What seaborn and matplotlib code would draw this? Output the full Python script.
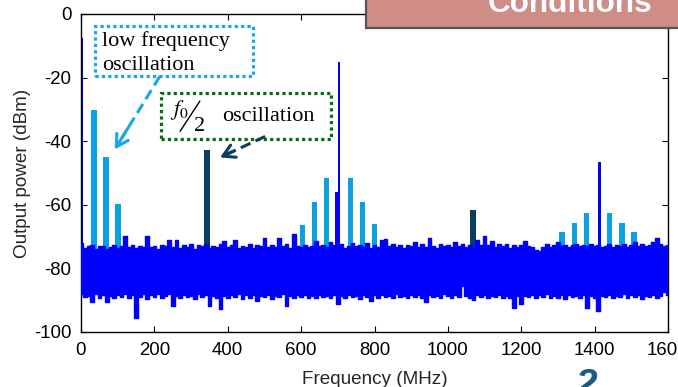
import numpy as np
import pandas as pd
import matplotlib
matplotlib.use("Agg")
import matplotlib.pyplot as plt
from matplotlib.patches import Rectangle
from matplotlib.lines import Line2D
import seaborn as sns

# ---- spectrum data (MHz, dBm) ----
# noise floor envelope, sampled every 10 MHz from 0 to 1600 MHz
noise_freq = list(range(0, 1610, 10))
noise_upper = [
    -72.0, -73.5, -73.0, -72.5, -73.8, -73.0, -72.8, -74.0, -73.2, -72.6,
    -73.5, -73.0, -69.8, -73.4, -72.5, -73.6, -72.8, -73.4, -69.8, -73.2,
    -72.9, -73.8, -72.5, -73.0, -71.0, -73.2, -71.2, -73.5, -72.6, -73.4,
    -72.4, -73.8, -72.7, -73.1, -72.3, -73.5, -72.9, -73.4, -72.4, -71.4,
    -73.3, -72.6, -71.0, -73.5, -72.8, -73.2, -72.2, -73.6, -72.5, -73.0,
    -70.5, -73.4, -72.6, -73.3, -70.3, -73.0, -72.4, -73.6, -69.3, -72.8,
    -73.2, -72.5, -73.4, -72.8, -71.5, -73.0, -72.6, -73.2, -71.8, -72.5,
    -73.0, -72.2, -73.5, -72.8, -71.9, -73.1, -72.5, -73.3, -72.0, -73.5,
    -72.7, -73.2, -71.0, -70.8, -73.0, -72.4, -73.3, -72.6, -73.6, -72.5,
    -72.9, -71.6, -73.3, -72.4, -73.4, -70.3, -72.8, -73.5, -72.3, -73.1,
    -72.6, -73.4, -71.8, -73.0, -72.4, -73.3, -72.6, -73.5, -71.2, -72.7,
    -69.8, -72.6, -71.5, -73.2, -72.4, -73.1, -72.3, -73.6, -72.5, -73.2,
    -72.6, -71.4, -72.8, -73.3, -74.2, -74.5, -73.2, -72.4, -73.4, -72.6,
    -71.8, -73.0, -72.5, -73.2, -72.7, -72.2, -73.1, -72.6, -72.9, -72.4,
    -73.1, -72.6, -73.2, -72.8, -72.3, -73.4, -72.6, -73.0, -72.2, -73.3,
    -72.7, -71.8, -72.9, -72.3, -73.1, -72.5, -71.6, -70.4, -72.4, -73.0,
    -72.5,
]
noise_lower = [
    -88.0, -89.0, -88.6, -90.5, -88.2, -89.3, -88.5, -90.6, -88.7, -89.4,
    -88.3, -89.1, -88.0, -89.2, -88.4, -95.5, -88.9, -88.2, -89.6, -88.5,
    -89.0, -88.2, -89.3, -88.6, -88.1, -91.8, -88.8, -89.4, -88.3, -89.0,
    -88.6, -89.5, -88.2, -89.1, -88.5, -91.8, -88.7, -89.4, -92.8, -88.6,
    -89.3, -88.4, -89.0, -88.2, -89.6, -88.5, -89.2, -88.3, -90.4, -88.7,
    -89.1, -88.4, -89.5, -88.6, -89.0, -88.2, -91.8, -88.8, -89.3, -88.5,
    -89.0, -88.3, -89.2, -88.6, -89.4, -88.4, -89.0, -88.7, -89.3, -88.5,
    -91.2, -88.8, -89.4, -88.3, -89.0, -88.6, -89.5, -88.4, -89.0, -90.4,
    -88.5, -89.2, -88.4, -89.0, -88.6, -89.3, -88.2, -89.1, -88.7, -89.4,
    -88.3, -89.0, -88.5, -89.2, -90.7, -88.4, -89.1, -88.6, -89.3, -88.2,
    -88.8, -89.4, -88.5, -89.0, -85.5, -88.6, -89.2, -90.0, -88.5, -89.1,
    -88.3, -89.4, -88.6, -89.0, -88.4, -89.3, -88.6, -89.2, -92.5, -88.8,
    -91.2, -88.6, -89.1, -88.3, -89.4, -88.5, -89.0, -88.2, -89.3, -88.6,
    -89.2, -88.4, -89.6, -88.5, -89.1, -88.7, -89.3, -88.4, -92.4, -88.8,
    -89.2, -93.5, -88.6, -89.1, -88.3, -89.4, -88.6, -89.0, -88.2, -89.3,
    -88.5, -89.1, -88.4, -89.5, -88.6, -89.0, -88.4, -89.2, -88.6, -87.5,
    -88.5,
]

# carrier lines (DC, f0, 2f0)
carrier_freq = [2, 703, 1414]
carrier_db = [-7.6, -15.0, -46.4]
# skirt just below the f0 carrier
skirt_freq = [697]
skirt_db = [-56.0]

# low-frequency oscillation and its mixing products
lf_freq = [35, 68, 101, 603, 636, 670, 735, 767, 800,
           1311, 1345, 1378, 1441, 1475, 1507]
lf_db = [-30.3, -45.0, -59.6, -66.2, -59.0, -51.7, -51.7, -59.0, -66.0,
         -68.7, -65.6, -62.5, -62.5, -65.6, -68.7]

# f0/2 oscillation products
half_freq = [344, 1068]
half_db = [-42.8, -61.7]

floor_db = -74.0

x_ticks = [0, 200, 400, 600, 800, 1000, 1200, 1400, 1600]
y_ticks = [-100, -80, -60, -40, -20, 0]

BLUE = "#0000FF"
LIGHT = "#0AA2DE"
DARK = "#0B3F60"
GREEN = "#0A6A12"

sns.set_theme(style="ticks")
plt.rcParams["font.family"] = ["Liberation Sans", "DejaVu Sans"]
plt.rcParams["mathtext.fontset"] = "stix"

W, H = 678, 387
fig = plt.figure(figsize=(W / 100, H / 100), dpi=100)
fig.patch.set_facecolor("white")
ax = fig.add_axes([81 / W, 1 - 332 / H, (668 - 81) / W, (332 - 14) / H])
ax.set_facecolor("white")

# spectral bars behind the noise floor
ax.bar(lf_freq, np.array(lf_db) - floor_db, bottom=floor_db, width=14.5,
       color=LIGHT, linewidth=0, zorder=2)
ax.bar(half_freq, np.array(half_db) - floor_db, bottom=floor_db, width=15,
       color=DARK, linewidth=0, zorder=2)
ax.bar(skirt_freq, np.array(skirt_db) - floor_db, bottom=floor_db, width=10,
       color=BLUE, linewidth=0, zorder=2)
ax.bar(carrier_freq, np.array(carrier_db) - floor_db, bottom=floor_db, width=7,
       color=BLUE, linewidth=0, zorder=2)

# noise floor
noise = pd.DataFrame({"freq": noise_freq, "upper": noise_upper, "lower": noise_lower})
ax.fill_between(noise["freq"], noise["lower"], noise["upper"], step="mid",
                color=BLUE, linewidth=0, zorder=3)
sns.lineplot(data=noise, x="freq", y="upper", drawstyle="steps-mid",
             color=BLUE, linewidth=1.0, ax=ax, zorder=3)
sns.lineplot(data=noise, x="freq", y="lower", drawstyle="steps-mid",
             color=BLUE, linewidth=1.0, ax=ax, zorder=3)

ax.set_xlim(0, 1600)
ax.set_ylim(-100, 0)
ax.set_xticks(x_ticks)
ax.set_yticks(y_ticks)
ax.set_xticklabels([str(v) for v in x_ticks])
ax.set_yticklabels([str(v) for v in y_ticks])
ax.tick_params(direction="in", length=4, width=0.8, top=True, right=True,
               labelsize=13.4, colors="black", pad=7)
for s in ax.spines.values():
    s.set_color("black")
    s.set_linewidth(1.0)
ax.set_xlabel("Frequency (MHz)", fontsize=13.6, labelpad=9)
ax.set_ylabel("Output power (dBm)", fontsize=13.6, labelpad=2)

# ---- annotations ----
dot = (0, (1, 1))
ax.add_patch(Rectangle((38, -19.6), 431, 15.8, fill=False, edgecolor="#18A6E6",
                       linewidth=2.3, linestyle=dot, zorder=6, clip_on=False))
ax.text(58, -10.0, "low frequency", family="Liberation Serif", fontsize=16,
        color="black", zorder=7)
ax.text(58, -17.6, "oscillation", family="Liberation Serif", fontsize=16,
        color="black", zorder=7)

ax.add_patch(Rectangle((218, -39.4), 464, 14.5, fill=False, edgecolor=GREEN,
                       linewidth=2.3, linestyle=dot, zorder=6, clip_on=False))
ax.text(243, -31.9, r"$f_0$", fontsize=16, color="black", zorder=7)
ax.add_line(Line2D([270, 324], [-36.9, -27.4], color="black", linewidth=1.0, zorder=7))
ax.text(308, -36.9, "2", family="Liberation Serif", fontsize=16, color="black", zorder=7)
ax.text(384, -33.8, "oscillation", family="Liberation Serif", fontsize=16,
        color="black", zorder=7)


def dashed_arrow(x0, y0, x1, y1, color):
    ax.plot([x0, x0 + 0.85 * (x1 - x0)], [y0, y0 + 0.85 * (y1 - y0)],
            color=color, linewidth=2.2, linestyle=(0, (3.5, 1.8)), zorder=7,
            solid_capstyle="butt", dash_capstyle="butt")
    ax.annotate("", xy=(x1, y1), xytext=(x0 + 0.7 * (x1 - x0), y0 + 0.7 * (y1 - y0)),
                arrowprops=dict(arrowstyle="->,head_length=0.7,head_width=0.4",
                                color=color, linewidth=2.2, shrinkA=0, shrinkB=0),
                zorder=7)


dashed_arrow(215, -19.6, 92, -42.6, "#18A6E6")
dashed_arrow(502, -38.5, 379, -45.1, DARK)

# ---- slide overlay: title tab and logo fragment ----
fig.add_artist(Rectangle((366 / W, (H - 28) / H), 0.5, 0.2, transform=fig.transFigure,
                         facecolor="#D08C86", edgecolor="#555555", linewidth=1.6,
                         zorder=10))
fig.text(488 / W, (H - 12) / H, "Conditions", color="white", fontsize=22.7,
         fontweight="bold", ha="left", va="baseline", zorder=11)
fig.text(576 / W, (H - 396) / H, "2", color="#1D5B85", fontsize=28,
         fontweight="bold", style="italic", ha="left", va="baseline", zorder=11)

fig.savefig("out.png", dpi=100)
